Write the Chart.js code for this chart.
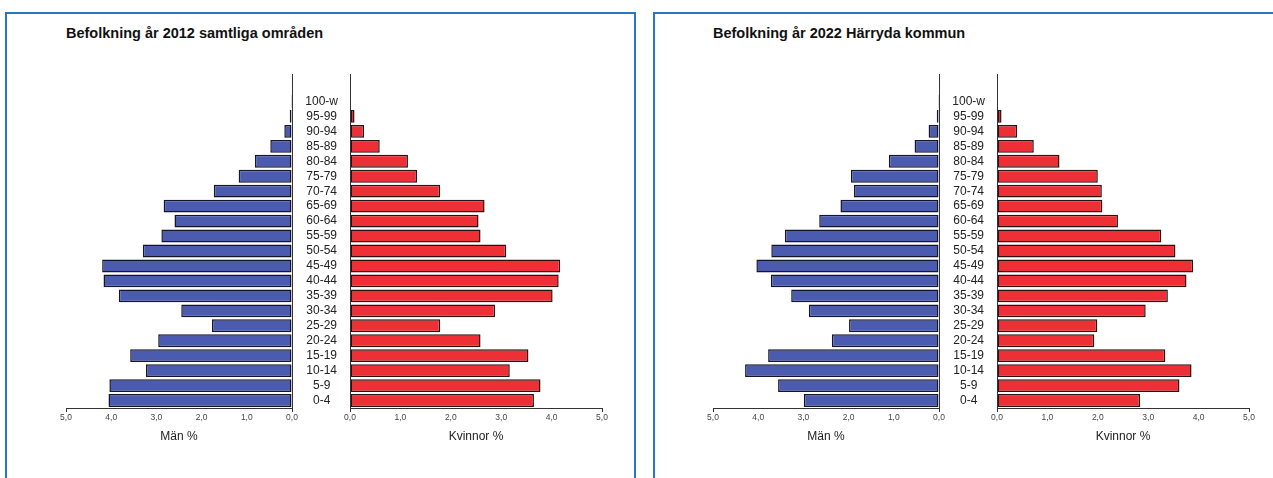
<!DOCTYPE html>
<html>
<head>
    <meta charset="utf-8">
    <title>Befolkning</title>
    <script src="https://cdn.jsdelivr.net/npm/chart.js"></script>
    <style>
        body{
            margin: 0;
            width: 1273px;
            height: 478px;
            overflow: hidden;
            background: #fff;
            font-family: "Liberation Sans", Arial, sans-serif;
        }
        .panel{
            position: absolute;
            top: 12px;
            height: 500px;
            box-sizing: border-box;
            border: 2px solid #2777c6;
            background: #fff;
        }
        .title{
            position: absolute;
            top: 25px;
            font-weight: bold;
            font-size: 14.5px;
            line-height: 16px;
            color: #111;
            white-space: nowrap;
        }
        canvas{
            position: absolute;
        }
    </style>
</head>
<body>
    <div class="panel" style="left:5px; width:631px;"></div>
    <div class="panel" style="left:653px; width:640px;"></div>
    <div id="charts"></div>
    <script>
        // age groups, top to bottom as drawn
        const ageGroups = ['100-w', '95-99', '90-94', '85-89', '80-84', '75-79', '70-74', '65-69', '60-64', '55-59',
            '50-54', '45-49', '40-44', '35-39', '30-34', '25-29', '20-24', '15-19', '10-14', '5-9', '0-4'];

        const titles = ['Befolkning år 2012 samtliga områden', 'Befolkning år 2022 Härryda kommun'];

        // percent of population
        const men2012 = [0.02, 0.05, 0.17, 0.48, 0.82, 1.18, 1.73, 2.84, 2.60, 2.89,
            3.30, 4.20, 4.17, 3.83, 2.45, 1.77, 2.96, 3.58, 3.23, 4.04, 4.06];
        const women2012 = [0.02, 0.09, 0.28, 0.59, 1.15, 1.33, 1.79, 2.67, 2.55, 2.59,
            3.10, 4.17, 4.14, 4.02, 2.88, 1.79, 2.59, 3.54, 3.17, 3.78, 3.65];
        const men2022 = [0.02, 0.05, 0.23, 0.54, 1.11, 1.95, 1.88, 2.18, 2.65, 3.41,
            3.71, 4.04, 3.72, 3.27, 2.88, 1.99, 2.37, 3.78, 4.29, 3.56, 2.99];
        const women2022 = [0.01, 0.09, 0.40, 0.73, 1.24, 2.00, 2.08, 2.09, 2.40, 3.26,
            3.54, 3.89, 3.76, 3.39, 2.95, 1.99, 1.93, 3.34, 3.86, 3.62, 2.84];

        const axisColor = '#333';

        // vertical zero axis runs a bit above the top bar
        const zeroLine = {
            id: 'zeroLine',
            afterDatasetsDraw(chart) {
                const {ctx, chartArea, scales} = chart;
                const x = Math.round(scales.x.getPixelForValue(0)) + 0.5;
                ctx.save();
                ctx.strokeStyle = axisColor;
                ctx.lineWidth = 1;
                ctx.beginPath();
                ctx.moveTo(x, chartArea.top - 20);
                ctx.lineTo(x, chartArea.bottom);
                ctx.stroke();
                ctx.restore();
            }
        };

        function makeCanvas(left, top, w, h) {
            const c = document.createElement('canvas');
            c.width = w;
            c.height = h;
            c.style.left = left + 'px';
            c.style.top = top + 'px';
            document.getElementById('charts').appendChild(c);
            return c;
        }

        function xScale(reverse, title) {
            return {
                type: 'linear',
                min: 0,
                max: 5,
                reverse: reverse,
                ticks: {
                    stepSize: 1,
                    padding: 1,
                    color: '#444',
                    font: {size: 8.5, family: 'Liberation Sans'},
                    callback: v => v.toFixed(1).replace('.', ',')
                },
                grid: {
                    drawOnChartArea: false,
                    drawTicks: true,
                    tickLength: 4,
                    color: ctx => (ctx.tick && (ctx.tick.value === 5 || ctx.tick.value === 0)) ? axisColor : 'rgba(0,0,0,0)'
                },
                border: {display: true, color: axisColor, width: 1},
                title: {
                    display: true,
                    text: title,
                    color: '#222',
                    font: {size: 12, family: 'Liberation Sans'},
                    padding: {top: 0, bottom: 4}
                },
                afterFit: s => { s.height = 40; }
            };
        }

        function makePyramid(dx, title, men, women) {
            const t = document.createElement('div');
            t.className = 'title';
            t.style.left = (66 + dx) + 'px';
            t.textContent = title;
            document.getElementById('charts').appendChild(t);

            const leftCanvas = makeCanvas(40 + dx, 60, 260, 400);
            new Chart(leftCanvas.getContext('2d'), {
                type: 'bar',
                data: {
                    labels: ageGroups,
                    datasets: [{
                        label: 'Män %',
                        data: men,
                        backgroundColor: '#4a5bb0',
                        borderColor: '#15152a',
                        borderWidth: 1.5,
                        borderSkipped: false,
                        categoryPercentage: 1,
                        barPercentage: 0.86
                    }]
                },
                options: {
                    indexAxis: 'y',
                    responsive: false,
                    animation: false,
                    layout: {padding: {left: 26, right: 8, top: 34, bottom: 12}},
                    plugins: {legend: {display: false}, tooltip: {enabled: false}},
                    scales: {
                        x: xScale(true, 'Män %'),
                        y: {
                            display: false,
                            position: 'right'
                        }
                    }
                },
                plugins: [zeroLine]
            });

            const rightCanvas = makeCanvas(292 + dx, 60, 330, 400);
            new Chart(rightCanvas.getContext('2d'), {
                type: 'bar',
                data: {
                    labels: ageGroups,
                    datasets: [{
                        label: 'Kvinnor %',
                        data: women,
                        backgroundColor: '#ee2f35',
                        borderColor: '#2a1212',
                        borderWidth: 1.5,
                        borderSkipped: false,
                        categoryPercentage: 1,
                        barPercentage: 0.86
                    }]
                },
                options: {
                    indexAxis: 'y',
                    responsive: false,
                    animation: false,
                    layout: {padding: {left: 0, right: 20, top: 34, bottom: 12}},
                    plugins: {legend: {display: false}, tooltip: {enabled: false}},
                    scales: {
                        x: xScale(false, 'Kvinnor %'),
                        y: {
                            position: 'left',
                            grid: {display: false, drawTicks: false},
                            border: {display: false},
                            ticks: {
                                autoSkip: false,
                                crossAlign: 'center',
                                padding: 12,
                                color: '#222',
                                font: {size: 12, family: 'Liberation Sans'}
                            },
                            afterFit: s => { s.width = 58; }
                        }
                    }
                },
                plugins: [zeroLine]
            });
        }

        makePyramid(0, titles[0], men2012, women2012);
        makePyramid(647, titles[1], men2022, women2022);
    </script>
</body>
</html>
